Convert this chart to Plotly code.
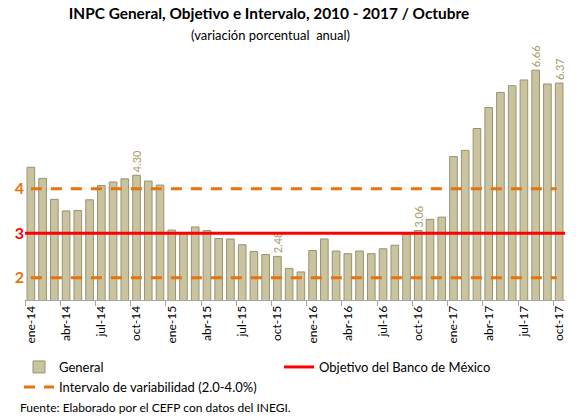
import plotly.graph_objects as go

meses = ["ene", "feb", "mar", "abr", "may", "jun", "jul", "ago", "sep", "oct", "nov", "dic"]
categorias = [f"{m}-{a}" for a in ["14", "15", "16", "17"] for m in meses][:46]

general = [4.48, 4.23, 3.76, 3.50, 3.51, 3.75, 4.07, 4.15, 4.22, 4.30, 4.17, 4.08,
           3.07, 3.00, 3.14, 3.06, 2.88, 2.87, 2.74, 2.59, 2.52, 2.48, 2.21, 2.13,
           2.61, 2.87, 2.60, 2.54, 2.60, 2.54, 2.65, 2.73, 2.97, 3.06, 3.31, 3.36,
           4.72, 4.86, 5.35, 5.82, 6.16, 6.31, 6.44, 6.66, 6.35, 6.37]
etiquetas = {"oct-14": "4.30", "oct-15": "2.48", "oct-16": "3.06", "ago-17": "6.66", "oct-17": "6.37"}

objetivo = 3.0
intervalo_inf = 2.0
intervalo_sup = 4.0

FONT = "Lato"
idx = list(range(len(categorias)))
textos = [etiquetas.get(c, "") for c in categorias]
x0, x1 = -0.5, len(categorias) - 0.5

fig = go.Figure()
fig.add_trace(go.Bar(
    x=idx, y=general, name="General", legend="legend",
    marker=dict(color="#c9c3a0", line=dict(color="#98936f", width=1)),
    text=textos, textposition="outside", textangle=-90, constraintext="none",
    textfont=dict(color="#a39d68", size=11, family=FONT),
    cliponaxis=False,
))
fig.add_trace(go.Scatter(
    x=[x0, x1], y=[objetivo, objetivo], mode="lines", legend="legend2",
    name="Objetivo del Banco de México",
    line=dict(color="#ff0000", width=3),
))
fig.add_trace(go.Scatter(
    x=[0, x1 - 0.7], y=[intervalo_sup, intervalo_sup], mode="lines", legend="legend3",
    name="Intervalo de variabilidad (2.0-4.0%)",
    line=dict(color="#e8720c", width=3, dash="11px,9px"),
    legendgroup="int",
))
fig.add_trace(go.Scatter(
    x=[0, x1 - 0.7], y=[intervalo_inf, intervalo_inf], mode="lines", legend="legend3",
    name="Intervalo de variabilidad (2.0-4.0%)", showlegend=False,
    line=dict(color="#e8720c", width=3, dash="11px,9px"),
    legendgroup="int",
))

leg_common = dict(orientation="h", xanchor="left", yanchor="middle",
                  font=dict(size=13, family=FONT, color="#000000"),
                  itemwidth=30, bgcolor="rgba(0,0,0,0)")
fig.update_layout(
    width=576, height=416,
    margin=dict(l=25, r=11, t=55, b=116, autoexpand=False),
    paper_bgcolor="white", plot_bgcolor="white",
    font=dict(family=FONT, color="#000000"),
    bargap=0.35,
    title=dict(text="<b>INPC General, Objetivo e Intervalo, 2010 - 2017 / Octubre</b>",
               x=0.467, xanchor="center", y=0.98, yanchor="top",
               font=dict(size=15.4, family=FONT, color="#000000")),
    showlegend=True,
    legend=dict(x=(19 - 25) / 540, y=(300 - 367) / 245, **leg_common),
    legend2=dict(x=(279 - 25) / 540, y=(300 - 367) / 245, **leg_common),
    legend3=dict(x=(19 - 25) / 540, y=(300 - 387) / 245, **leg_common),
)
fig.update_xaxes(
    range=[x0, x1], automargin=False,
    tickmode="array", tickvals=idx[::3], ticktext=categorias[::3],
    tickangle=-90, ticks="", tickfont=dict(size=12, family=FONT, color="#000000"),
    showline=True, linecolor="#a6a6a6", linewidth=1,
    showgrid=False, zeroline=False,
    minor=dict(tickmode="array", tickvals=[i - 0.5 for i in idx[::3]],
               ticks="outside", ticklen=5, tickcolor="#a6a6a6", showgrid=False),
)
fig.update_yaxes(
    range=[1.5, 7.0], automargin=False, showgrid=False, zeroline=False, showline=False,
    tickmode="array", tickvals=[intervalo_inf, objetivo, intervalo_sup],
    ticktext=['<span style="color:#e8720c"><b>2</b></span>',
              '<span style="color:#ff0000"><b>3</b></span>',
              '<span style="color:#e8720c"><b>4</b></span>'],
    tickfont=dict(size=16, family=FONT), ticks="",
)
fig.add_annotation(text="(variación porcentual  anual)", xref="paper", yref="paper",
                   x=(270 - 25) / 540, y=(300 - 35) / 245, xanchor="center", yanchor="middle",
                   showarrow=False, font=dict(size=13, family=FONT, color="#000000"))
fig.add_annotation(text="Fuente: Elaborado por el CEFP con datos del INEGI.", xref="paper", yref="paper",
                   x=(18 - 25) / 540, y=(300 - 407) / 245, xanchor="left", yanchor="middle",
                   showarrow=False, font=dict(size=12, family=FONT, color="#000000"))

fig.write_html("out.html", config={"displayModeBar": False},
               post_script="document.body.style.margin='0px';")
